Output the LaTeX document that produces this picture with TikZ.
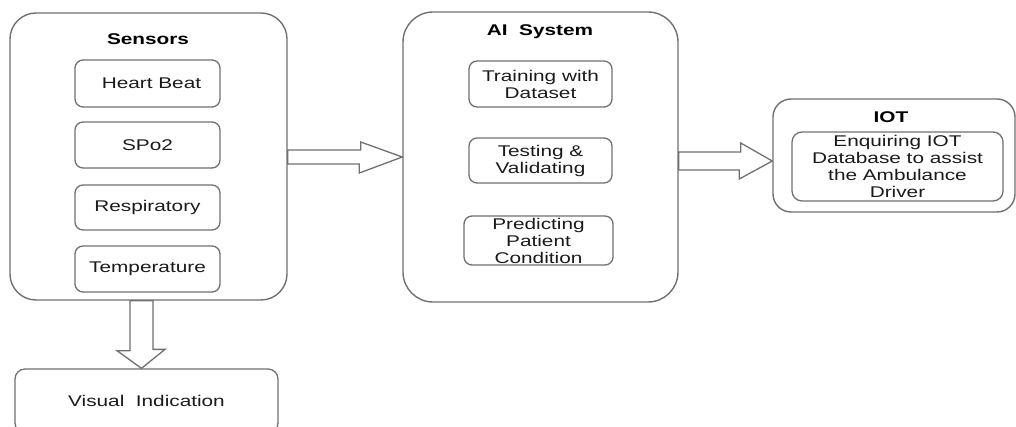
\documentclass[tikz,border=0pt]{standalone}
\usepackage{fontspec}
\setmainfont{Liberation Sans}[FakeStretch=1.34]
\usetikzlibrary{calc}
\definecolor{edgegray}{HTML}{707070}
\definecolor{txt}{HTML}{1A1A1A}
\tikzset{
  outerbox/.style={draw=edgegray, line width=1.4pt, rounded corners=26pt, inner sep=0pt},
  innerbox/.style={draw=edgegray, line width=1.3pt, rounded corners=8pt, inner sep=0pt, align=center, text=txt,
    font=\fontsize{15.5}{17}\selectfont},
  titletext/.style={font=\fontsize{15.5}{17}\selectfont\bfseries, text=black, inner sep=0pt},
  barrow/.style={draw=edgegray, line width=1.3pt, fill=white, line join=miter},
}
\begin{document}
\begin{tikzpicture}[x=1pt,y=1pt]
\useasboundingbox (0,0) rectangle (1016,-427);
\clip (0,0) rectangle (1016,-427);
% Sensors
\node[outerbox, minimum width=277pt, minimum height=287pt] (sens) at (148.5,-156.5) {};
\node[titletext] (senst) at (148,-39) {Sensors};
\node[innerbox, minimum width=145pt, minimum height=47pt] (hb) at (147.5,-83.5) {\hspace{8pt}Heart Beat};
\node[innerbox, minimum width=145pt, minimum height=46pt] (spo) at (147.5,-145) {SPo2};
\node[innerbox, minimum width=145pt, minimum height=45pt] (resp) at (147.5,-207.5) {Respiratory};
\node[innerbox, minimum width=145pt, minimum height=46pt] (temp) at (147.5,-269) {Temperature};
% AI system
\node[outerbox, rounded corners=30pt, minimum width=275pt, minimum height=290pt] (ai) at (540.5,-157) {};
\node[titletext] (ait) at (540,-32) {AI\ \ System};
\node[innerbox, minimum width=143pt, minimum height=46pt] (train) at (540.5,-84) {Training with\\Dataset};
\node[innerbox, minimum width=143pt, minimum height=45pt] (test) at (540.5,-160.5) {Testing \&\\Validating};
\node[innerbox, minimum width=149pt, minimum height=49pt] (pred) at (538.5,-240.5) {Predicting\\Patient\\Condition};
% IOT
\node[outerbox, rounded corners=18pt, minimum width=242pt, minimum height=113pt] (iot) at (894,-155.5) {};
\node[titletext] (iott) at (891,-117) {IOT};
\node[innerbox, rounded corners=10pt, minimum width=211pt, minimum height=69pt] (enq) at (897.5,-166.5) {Enquiring IOT\\Database to assist\\the Ambulance\\Driver};
% Visual indication
\node[innerbox, rounded corners=10pt, minimum width=263pt, minimum height=64pt] (vis) at (146.5,-401) {Visual\ \ Indication};
% Block arrows
\draw[barrow] ($(sens.east)+(0,6.5)$) -- ++(73,0) -- ++(0,8) -- (ai.west) -- ++(-43,-16) -- ++(0,9) -- ($(sens.east)+(0,-7.5)$) -- cycle;
\draw[barrow] ($(ai.east)+(0,5)$) -- ++(62,0) -- ++(0,9) -- ($(iot.west)+(0,-5.5)$) -- ++(-33,-18) -- ++(0,9) -- ($(ai.east)+(0,-13)$) -- cycle;
\draw[barrow] ($(sens.south)+(-18.5,0)$) -- ++(0,-50) -- ++(-13,0) -- ($(vis.north)+(-5,0)$) -- ++(23.5,19) -- ++(-12,0) -- ($(sens.south)+(4.5,0)$) -- cycle;
\end{tikzpicture}
\end{document}
